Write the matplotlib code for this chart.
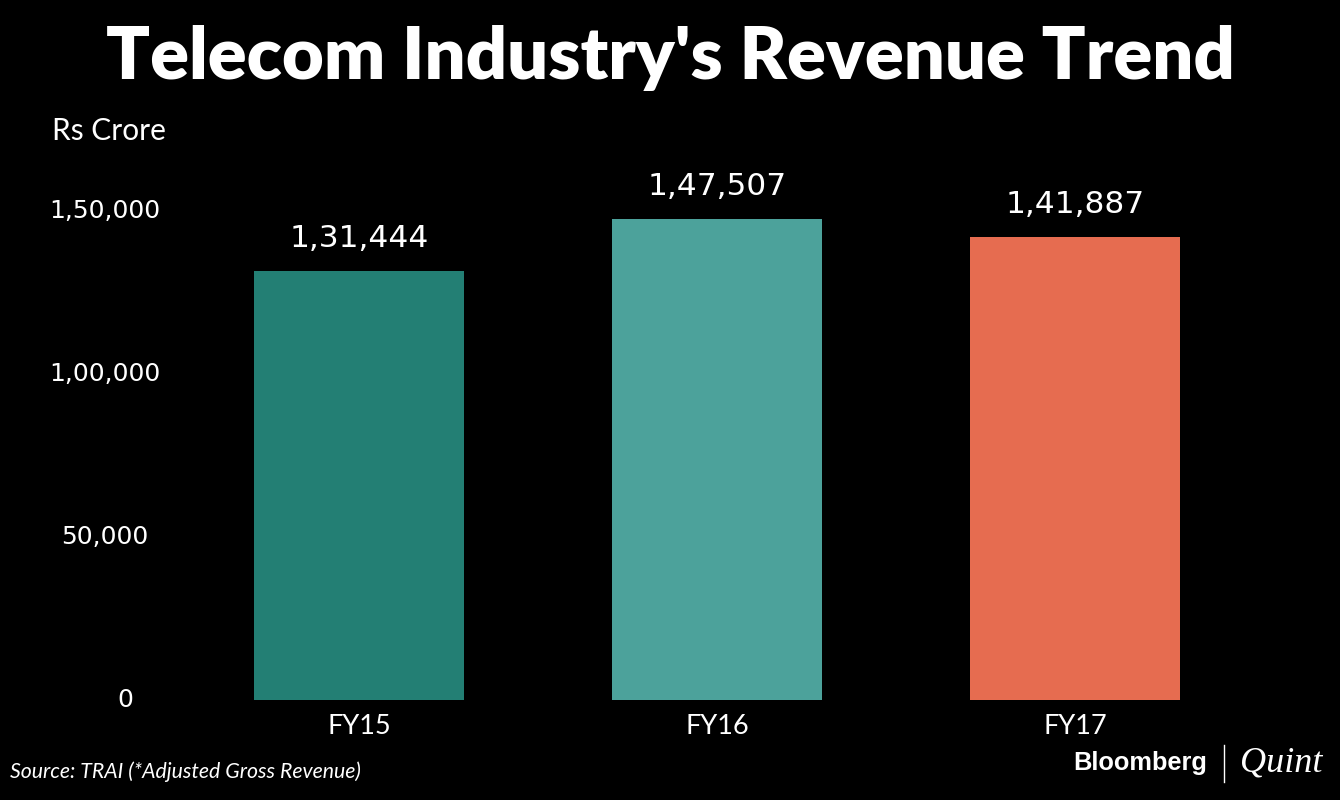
import matplotlib
matplotlib.use("Agg")
import matplotlib.pyplot as plt
import matplotlib.transforms as mtransforms
import numpy as np

categories = ["FY15", "FY16", "FY17"]
revenue = [131444, 147507, 141887]
value_labels = ["1,31,444", "1,47,507", "1,41,887"]
y_ticks = [0, 50000, 100000, 150000]
y_tick_labels = ["0", "50,000", "1,00,000", "1,50,000"]
colors = ["#237F74", "#4CA29B", "#E66C50"]

BG = "black"
FONT = ["Lato", "DejaVu Sans"]
NUMFONT = ["DejaVu Sans"]

fig = plt.figure(figsize=(13.4, 8), dpi=100, facecolor=BG)
ax = fig.add_axes([180 / 1340, 0.125, 1074 / 1340, 0.652])
ax.set_facecolor(BG)

x = np.arange(len(categories))
bars = ax.bar(x, revenue, width=0.587, color=colors)
ax.set_xlim(-0.5, 2.5)
ax.set_ylim(0, 160000)

for b, lab in zip(bars, value_labels):
    ax.annotate(lab, (b.get_x() + b.get_width() / 2, b.get_height()),
                xytext=(0, 13), textcoords="offset points",
                ha="center", va="bottom", color="white",
                fontsize=22.5, family=NUMFONT)

for s in ax.spines.values():
    s.set_visible(False)
ax.set_yticks([])
ax.set_xticks(x)
ax.set_xticklabels(categories, family=FONT, fontsize=19.5, color="white")
ax.tick_params(axis="x", length=0, pad=10)

# y tick labels placed by hand so they sit centred in the left margin
trans = mtransforms.blended_transform_factory(fig.transFigure, ax.transData)
for v, lab in zip(y_ticks, y_tick_labels):
    xpos = 125 / 1340 if v == 0 else 105 / 1340
    ax.text(xpos, v, lab, transform=trans, ha="center", va="center",
            color="white", fontsize=18, family=NUMFONT)

fig.text(0.5, 1 - 58 / 800, "Telecom Industry's Revenue Trend",
         ha="center", va="center", color="white", fontsize=52,
         fontweight="heavy", family=FONT)
fig.text(52 / 1340, 1 - 131 / 800, "Rs Crore", ha="left", va="center",
         color="white", fontsize=21.5, family=FONT)
fig.text(10 / 1340, 1 - 772 / 800, "Source: TRAI (*Adjusted Gross Revenue)",
         ha="left", va="center", color="white", fontsize=15.3,
         style="italic", family=FONT)

# logo
fig.text(1207 / 1340, 1 - 763 / 800, "Bloomberg", ha="right", va="center",
         color="white", fontsize=18.3, fontweight="bold",
         family=["Liberation Sans", "DejaVu Sans"])
fig.add_artist(plt.Line2D([1224 / 1340, 1224 / 1340],
                          [1 - 745 / 800, 1 - 782 / 800],
                          color="white", lw=1))
fig.text(1240 / 1340, 1 - 763 / 800, "Quint", ha="left", va="center",
         color="white", fontsize=26, style="italic",
         family=["Liberation Serif", "DejaVu Serif"])

fig.savefig("out.png", dpi=100, facecolor=BG)
